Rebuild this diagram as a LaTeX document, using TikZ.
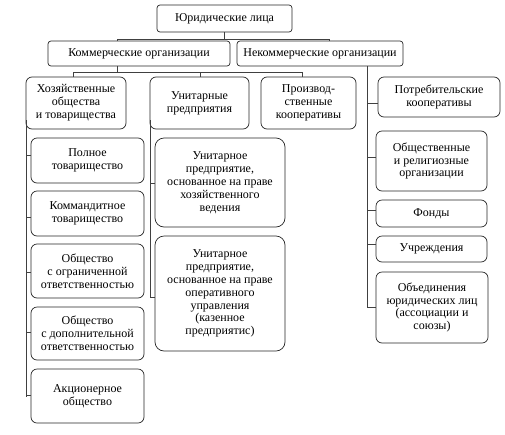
\documentclass[tikz,border=0pt]{standalone}
\usepackage{fontspec}
\setmainfont{Liberation Serif}
\begin{document}
\begin{tikzpicture}[x=1pt,y=-1pt,
  box/.style={draw=black!85, rounded corners=6pt, line width=0.7pt, align=center, inner sep=0pt,
    font=\fontsize{12}{12.9}\selectfont},
  conn/.style={draw=black!75, line width=0.6pt}]
\useasboundingbox (0,0) rectangle (505,434);
% level 1-2
\node[box, rounded corners=3pt, minimum width=135pt, minimum height=27pt] (top) at (224.5,18.5) {Юридические лица};
\node[box, rounded corners=3pt, minimum width=182pt, minimum height=25pt] (kom) at (139,53.5) {Коммерческие организации};
\node[box, rounded corners=3pt, minimum width=166pt, minimum height=25pt] (nek) at (320,53.5) {Некоммерческие организации};
% level 3
\node[box, minimum width=100pt, minimum height=52pt] (hoz) at (76,103) {Хозяйственные\\общества\\и товарищества};
\node[box, minimum width=99pt, minimum height=52pt] (uni) at (199.5,103) {Унитарные\\предприятия};
\node[box, minimum width=95pt, minimum height=52pt] (pro) at (308.5,103) {Производ-\\ственные\\кооперативы};
\node[box, minimum width=122pt, minimum height=40pt] (potr) at (439,97) {Потребительские\\кооперативы};
% left column
\node[box, minimum width=113pt, minimum height=45pt] (poln) at (87.5,160.5) {Полное\\товарищество};
\node[box, minimum width=113pt, minimum height=45pt] (komm) at (87.5,213.5) {Коммандитное\\товарищество};
\node[box, minimum width=113pt, minimum height=54pt] (ogr) at (87.5,271) {Общество\\с ограниченной\\ответственностью};
\node[box, minimum width=113pt, minimum height=53pt] (dop) at (87.5,333.5) {Общество\\с дополнительной\\ответственностью};
\node[box, minimum width=113pt, minimum height=54pt] (akc) at (87.5,396) {Акционерное\\общество};
% middle column
\node[box, rounded corners=9pt, minimum width=130pt, minimum height=89pt] (uh) at (220,182.5) {Унитарное\\предприятие,\\основанное на праве\\хозяйственного\\ведения};
\node[box, rounded corners=9pt, minimum width=130pt, minimum height=115pt] (uo) at (220,293.5) {Унитарное\\предприятие,\\основанное на праве\\оперативного\\управления\\(казенное\\предприятис)};
% right column
\node[box, minimum width=111pt, minimum height=60pt] (obsh) at (431.5,161) {Общественные\\и религиозные\\организации};
\node[box, minimum width=111pt, minimum height=27pt] (fond) at (431.5,213.5) {Фонды};
\node[box, minimum width=111pt, minimum height=26pt] (uchr) at (431.5,249) {Учреждения};
\node[box, minimum width=112pt, minimum height=71pt] (obed) at (432,307.5) {Объединения\\юридических лиц\\(ассоциации и\\союзы)};
% connectors top
\coordinate (jt) at (224.5,39);
\coordinate (jk) at (117,39);
\coordinate (jn) at (329,39);
\draw[conn] (top.south) -- (jt);
\draw[conn] (jk) -- (jn);
\draw[conn] (jk) -- (jk |- kom.north);
\draw[conn] (jn) -- (jn |- nek.north);
% commercial
\coordinate (k1) at (117,72);
\coordinate (h1) at (73,72);
\coordinate (u1) at (200,72);
\coordinate (p1) at (302,72);
\draw[conn] (k1 |- kom.south) -- (k1);
\draw[conn] (h1) -- (p1);
\draw[conn] (h1) -- (h1 |- hoz.north);
\draw[conn] (u1) -- (u1 |- uni.north);
\draw[conn] (p1) -- (p1 |- pro.north);
% left spine
\coordinate (ls) at (26,120);
\coordinate (le) at (26,397);
\draw[conn] (ls) -- (le);
\coordinate (l1) at (26,155);
\coordinate (l2) at (26,217);
\coordinate (l3) at (26,272);
\coordinate (l4) at (26,332);
\coordinate (l5) at (26,395);
\draw[conn] (l1) -- (l1 -| poln.west);
\draw[conn] (l2) -- (l2 -| komm.west);
\draw[conn] (l3) -- (l3 -| ogr.west);
\draw[conn] (l4) -- (l4 -| dop.west);
\draw[conn] (l5) -- (l5 -| akc.west);
% middle spine
\coordinate (ms) at (150,120);
\coordinate (m1) at (150,183);
\coordinate (m2) at (150,297);
\draw[conn] (ms) -- (m2);
\draw[conn] (m1) -- (m1 -| uh.west);
\draw[conn] (m2) -- (m2 -| uo.west);
% right spine
\coordinate (rs) at (367,66);
\coordinate (r1) at (367,103);
\coordinate (r2) at (367,157);
\coordinate (r3) at (367,210);
\coordinate (r4) at (367,244);
\coordinate (r5) at (367,307);
\draw[conn] (rs) -- (r5);
\draw[conn] (r1) -- (r1 -| potr.west);
\draw[conn] (r2) -- (r2 -| obsh.west);
\draw[conn] (r3) -- (r3 -| fond.west);
\draw[conn] (r4) -- (r4 -| uchr.west);
\draw[conn] (r5) -- (r5 -| obed.west);
\end{tikzpicture}
\end{document}
